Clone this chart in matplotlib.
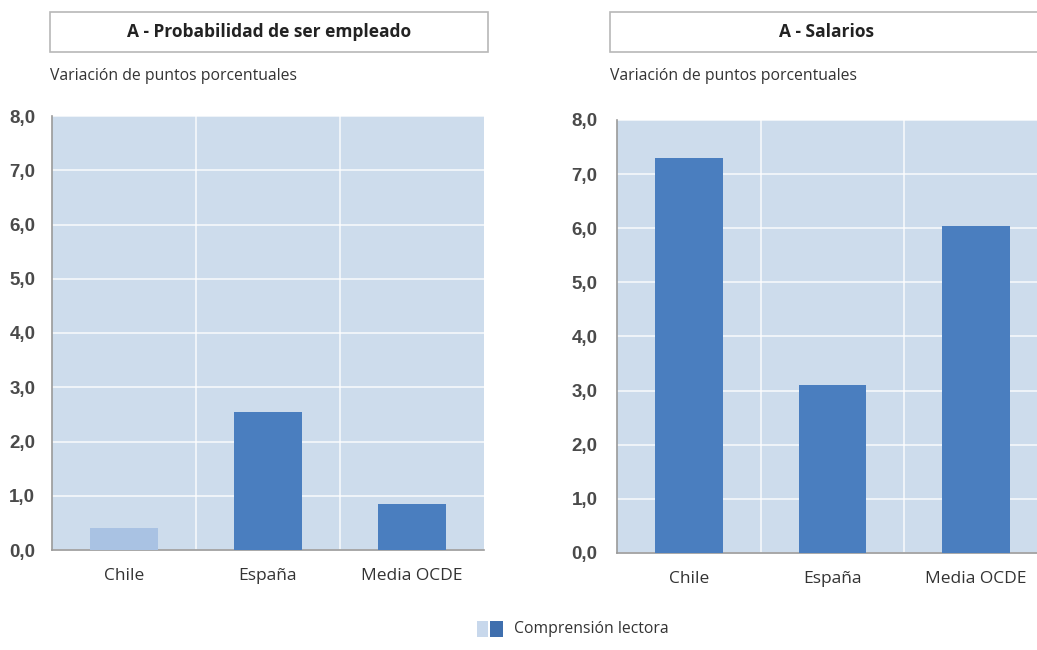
import matplotlib.pyplot as plt
from matplotlib.patches import Rectangle
from matplotlib.ticker import FixedLocator

categories = ["Chile", "España", "Media OCDE"]
empleo = [0.4, 2.54, 0.85]
salarios = [7.3, 3.11, 6.04]
titles = ["A - Probabilidad de ser empleado", "A - Salarios"]
subtitle = "Variación de puntos porcentuales"
legend_label = "Comprensión lectora"
yticks = [0, 1, 2, 3, 4, 5, 6, 7, 8]

BG = "#cddcec"
DARK = "#4a7ebf"
LIGHT = "#a9c2e3"
W, H = 1037, 650

plt.rcParams["font.family"] = ["Open Sans", "DejaVu Sans"]
fig = plt.figure(figsize=(W / 100, H / 100), dpi=100)


def px(x0, y_top, x1, y_bot):
    # pixel box -> figure fraction [left, bottom, width, height]
    return [x0 / W, 1 - y_bot / H, (x1 - x0) / W, (y_bot - y_top) / H]


def panel(rect, values, colors, title, box, title_x, sub_x, pad):
    ax = fig.add_axes(rect)
    ax.set_facecolor(BG)
    x = range(len(categories))
    ax.bar(x, values, width=0.47, color=colors, zorder=3)
    ax.set_xlim(-0.5, len(categories) - 0.5)
    ax.set_ylim(0, 8)
    ax.set_yticks(yticks)
    ax.set_yticklabels([f"{v:.1f}".replace(".", ",") for v in yticks],
                       family="Liberation Sans", fontsize=13.5, color="#4a4a4a",
                       fontweight="bold")
    ax.set_xticks(list(x))
    ax.set_xticklabels(categories, fontsize=12.5, color="#333333")
    ax.xaxis.set_minor_locator(FixedLocator([0.5, 1.5]))
    ax.grid(axis="y", color="white", linewidth=1.2, alpha=0.8, zorder=1)
    ax.grid(axis="x", which="minor", color="white", linewidth=1.2, alpha=0.8, zorder=1)
    ax.tick_params(axis="y", length=0, pad=pad)
    ax.tick_params(axis="x", length=0, pad=13)
    ax.tick_params(axis="x", which="minor", length=0)
    for s in ["top", "right"]:
        ax.spines[s].set_visible(False)
    for s in ["left", "bottom"]:
        ax.spines[s].set_color("#9a9a9a")
        ax.spines[s].set_linewidth(1.2)
    # title box
    bx0, by0, bx1, by1 = box
    fig.patches.append(Rectangle((bx0 / W, 1 - by1 / H), (bx1 - bx0) / W, (by1 - by0) / H,
                                 transform=fig.transFigure, facecolor="white",
                                 edgecolor="#b8b8b8", linewidth=1.2))
    fig.text(title_x / W, 1 - (by0 + by1) / 2 / H, title,
             ha="center", va="center", fontsize=12.5, fontweight="bold", color="#222222")
    fig.text(sub_x / W, 1 - 76 / H, subtitle, ha="left", va="center",
             fontsize=11.3, color="#333333")
    return ax


panel(px(52, 116, 484, 550), empleo, [LIGHT, DARK, DARK], titles[0],
      (50, 12, 488, 52), 269, 50, 12)
panel(px(617, 120, 1048, 553), salarios, [DARK, DARK, DARK], titles[1],
      (610, 12, 1060, 52), 826, 610, 14)

# legend
fig.patches.append(Rectangle((477 / W, 1 - 637 / H), 11 / W, 16 / H,
                             transform=fig.transFigure, facecolor="#c8d8ec", edgecolor="none"))
fig.patches.append(Rectangle((490 / W, 1 - 637 / H), 13 / W, 16 / H,
                             transform=fig.transFigure, facecolor="#3f6fae", edgecolor="none"))
fig.text(514 / W, 1 - 629 / H, legend_label, ha="left", va="center",
         fontsize=11.3, color="#333333")

fig.savefig("out.png", dpi=100)
